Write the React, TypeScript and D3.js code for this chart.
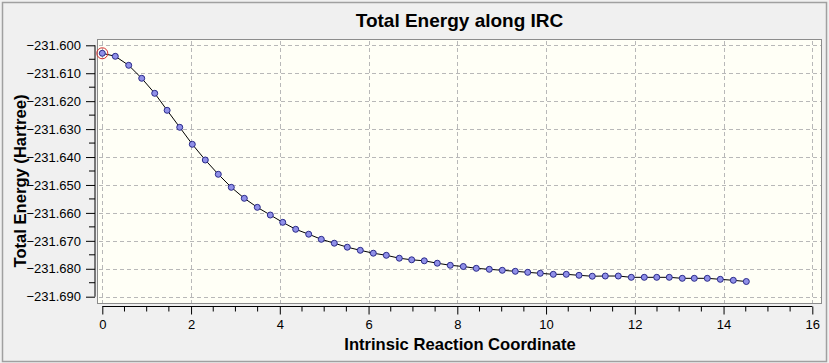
import React, { useEffect, useRef } from 'react';
import * as d3 from 'd3';

// IRC coordinate and total energy (Hartree)
const IRC_COORD: number[] = [
  0, 0.293, 0.595, 0.888, 1.181, 1.461, 1.745, 2.028, 2.321, 2.614,
  2.907, 3.2, 3.493, 3.786, 4.066, 4.358, 4.651, 4.935, 5.228, 5.521,
  5.814, 6.107, 6.4, 6.693, 6.972, 7.256, 7.549, 7.842, 8.135, 8.428,
  8.721, 9.014, 9.307, 9.587, 9.87, 10.163, 10.456, 10.743, 11.042, 11.335,
  11.628, 11.921, 12.214, 12.494, 12.777, 13.07, 13.341, 13.634, 13.927, 14.22,
  14.513
];

const ENERGY: number[] = [
  -231.60286, -231.60394, -231.60716, -231.61181, -231.61719, -231.62327, -231.62936, -231.63544, -231.64106, -231.64618,
  -231.65084, -231.65478, -231.658, -231.66076, -231.66337, -231.66587, -231.66763, -231.66945, -231.67085, -231.67228,
  -231.67339, -231.67443, -231.67518, -231.67622, -231.67679, -231.67715, -231.67801, -231.67876, -231.67919, -231.67984,
  -231.68019, -231.68055, -231.68091, -231.68127, -231.68163, -231.68199, -231.68199, -231.68234, -231.68267, -231.6826,
  -231.6826, -231.68306, -231.68306, -231.68306, -231.68306, -231.68342, -231.68342, -231.68342, -231.68378, -231.68413,
  -231.68456
];

const X_TICKS: number[] = [0, 2, 4, 6, 8, 10, 12, 14, 16];
const Y_TICKS: number[] = [-231.6, -231.61, -231.62, -231.63, -231.64, -231.65, -231.66, -231.67, -231.68, -231.69];

const TITLE = 'Total Energy along IRC';
const X_LABEL = 'Intrinsic Reaction Coordinate';
const Y_LABEL = 'Total Energy (Hartree)';

const FONT = '"Liberation Sans", Arial, sans-serif';

const App: React.FC = () => {
  const ref = useRef<SVGSVGElement>(null);

  useEffect(() => {
    if (!ref.current) return;
    const svg = d3.select(ref.current);
    svg.selectAll('*').remove();

    const width = 829;
    const height = 363;
    const frame = { left: 97.5, top: 39.5, right: 821.5, bottom: 303.5 };

    const x = d3.scaleLinear().domain([0, 16]).range([102.3, 812.3]);
    const y = d3.scaleLinear().domain([-231.69, -231.6]).range([296.7, 45.3]);

    // window background + border
    svg.append('rect')
      .attr('width', width).attr('height', height)
      .attr('fill', '#f0f0f0');
    svg.append('rect')
      .attr('x', 2.5).attr('y', 2.5)
      .attr('width', 824).attr('height', 359)
      .attr('fill', 'none')
      .attr('stroke', '#a0a0a0')
      .attr('stroke-width', 1.5);

    // title
    svg.append('text')
      .attr('x', 459.5).attr('y', 27.3)
      .attr('text-anchor', 'middle')
      .attr('font-family', FONT)
      .attr('font-weight', 'bold')
      .attr('font-size', 19)
      .attr('fill', '#000')
      .text(TITLE);

    // plot area
    svg.append('rect')
      .attr('x', frame.left).attr('y', frame.top)
      .attr('width', frame.right - frame.left)
      .attr('height', frame.bottom - frame.top)
      .attr('fill', '#fffff6')
      .attr('stroke', '#8c8c8c')
      .attr('stroke-width', 1);

    // grid
    const grid = svg.append('g')
      .attr('stroke', '#b8b8b8')
      .attr('stroke-width', 1)
      .attr('stroke-dasharray', '4,3')
      .attr('shape-rendering', 'crispEdges');
    grid.selectAll('line.v')
      .data(X_TICKS)
      .enter()
      .append('line')
      .attr('x1', d => Math.round(x(d)) + 0.5).attr('x2', d => Math.round(x(d)) + 0.5)
      .attr('y1', frame.top + 1).attr('y2', frame.bottom - 1);
    grid.selectAll('line.h')
      .data(Y_TICKS)
      .enter()
      .append('line')
      .attr('y1', d => Math.round(y(d)) + 0.5).attr('y2', d => Math.round(y(d)) + 0.5)
      .attr('x1', frame.left + 1).attr('x2', frame.right - 1);

    // y axis
    const yAxis = d3.axisLeft(y)
      .tickValues(Y_TICKS)
      .tickSize(9)
      .tickPadding(5)
      .tickFormat(d => d3.format('.3f')(d as number));
    const yg = svg.append('g')
      .attr('transform', 'translate(95,0)')
      .call(yAxis);
    yg.select('.domain').attr('stroke', '#000').attr('d', `M0,${y(-231.6)}V${y(-231.69)}`);
    yg.selectAll('text')
      .attr('font-family', FONT)
      .attr('font-size', 13)
      .attr('fill', '#000');
    // minor y ticks
    yg.selectAll('line.minor')
      .data(d3.range(0, Y_TICKS.length - 1).map(i => (Y_TICKS[i] + Y_TICKS[i + 1]) / 2))
      .enter()
      .append('line')
      .attr('x1', -6).attr('x2', 0)
      .attr('y1', d => y(d)).attr('y2', d => y(d))
      .attr('stroke', '#000');

    // x axis
    const xAxis = d3.axisBottom(x)
      .tickValues(X_TICKS)
      .tickSize(8)
      .tickPadding(5)
      .tickFormat(d => String(d));
    const xg = svg.append('g')
      .attr('transform', 'translate(0,306.5)')
      .call(xAxis);
    xg.select('.domain').attr('stroke', '#000').attr('d', `M${x(0)},0H${x(16)}`);
    xg.selectAll('text')
      .attr('font-family', FONT)
      .attr('font-size', 13)
      .attr('fill', '#000');
    xg.selectAll('line.minor')
      .data(d3.range(0, 16.01, 0.5).filter(v => v % 2 !== 0))
      .enter()
      .append('line')
      .attr('x1', d => x(d)).attr('x2', d => x(d))
      .attr('y1', 0).attr('y2', 5)
      .attr('stroke', '#000');

    // axis titles
    svg.append('text')
      .attr('x', 460).attr('y', 350)
      .attr('text-anchor', 'middle')
      .attr('font-family', FONT)
      .attr('font-weight', 'bold')
      .attr('font-size', 16.6)
      .text(X_LABEL);
    svg.append('text')
      .attr('transform', 'translate(26,181) rotate(-90)')
      .attr('text-anchor', 'middle')
      .attr('font-family', FONT)
      .attr('font-weight', 'bold')
      .attr('font-size', 16.6)
      .text(Y_LABEL);

    // curve
    const pts = IRC_COORD.map((c, i) => ({ c, e: ENERGY[i] }));
    const line = d3.line<{ c: number; e: number }>()
      .x(d => x(d.c))
      .y(d => y(d.e));
    svg.append('path')
      .datum(pts)
      .attr('fill', 'none')
      .attr('stroke', '#000')
      .attr('stroke-width', 1)
      .attr('d', line);

    svg.selectAll('circle.pt')
      .data(pts)
      .enter()
      .append('circle')
      .attr('cx', d => x(d.c))
      .attr('cy', d => y(d.e))
      .attr('r', 3)
      .attr('fill', '#9090e8')
      .attr('stroke', '#2a2a8a')
      .attr('stroke-width', 1);

    // highlighted current point
    svg.append('circle')
      .attr('cx', x(pts[0].c))
      .attr('cy', y(pts[0].e))
      .attr('r', 5.5)
      .attr('fill', 'none')
      .attr('stroke', '#d42a2a')
      .attr('stroke-width', 1);
  }, []);

  return (
    <div style={{ position: 'fixed', left: 0, top: 0 }}>
      <svg ref={ref} width={829} height={363} style={{ display: 'block' }} />
    </div>
  );
};

export default App;
